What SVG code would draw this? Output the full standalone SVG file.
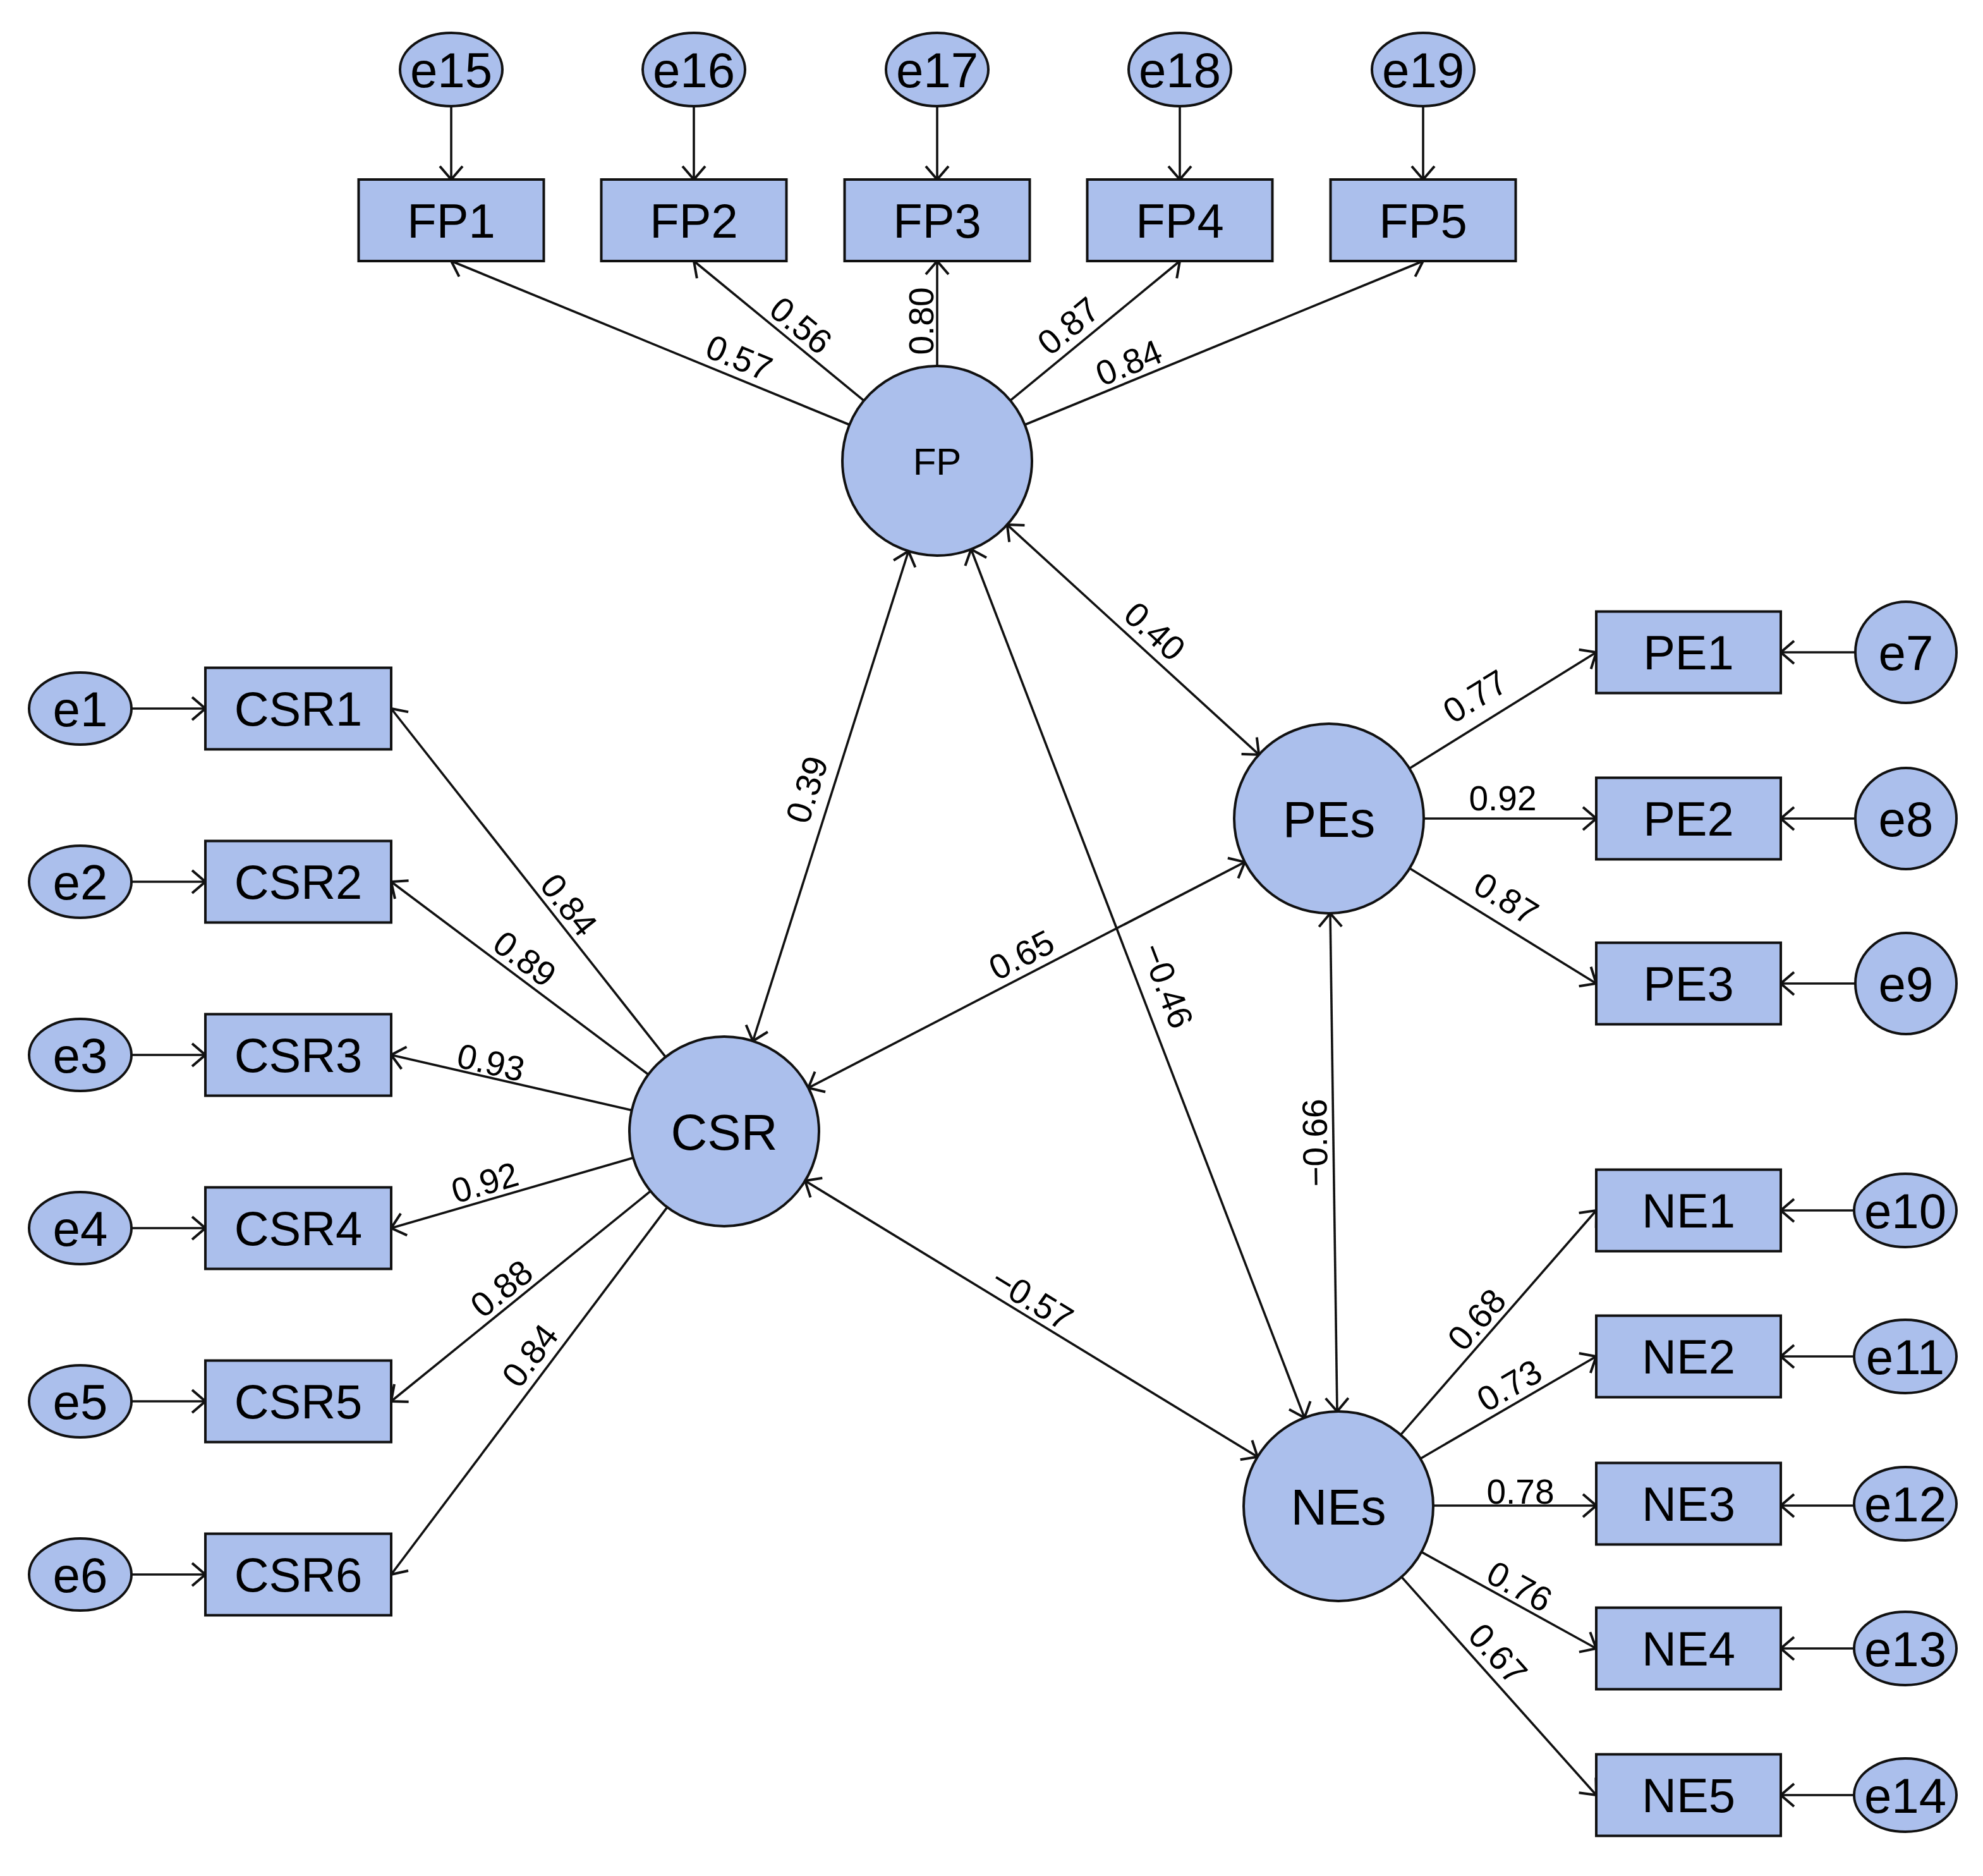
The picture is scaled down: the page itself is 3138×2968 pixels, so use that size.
<svg xmlns="http://www.w3.org/2000/svg" width="3138" height="2968" viewBox="0 0 3138 2968">
<style>
.box{fill:#abbfec;stroke:#111;stroke-width:4}
.lat{fill:#abbfec;stroke:#111;stroke-width:4}
.err{fill:#abbfec;stroke:#111;stroke-width:4}
.t{font-family:"Liberation Sans",Arial,sans-serif;font-size:76px;fill:#000;text-anchor:middle}
.te{font-family:"Liberation Sans",Arial,sans-serif;font-size:78px;fill:#000;text-anchor:middle}
.tl{font-family:"Liberation Sans",Arial,sans-serif;font-size:80px;fill:#000;text-anchor:middle}
.tfp{font-family:"Liberation Sans",Arial,sans-serif;font-size:60px;fill:#000;text-anchor:middle}
.lbl{font-family:"Liberation Sans",Arial,sans-serif;font-size:55px;fill:#000;text-anchor:middle}
.c{fill:none;stroke:#111;stroke-width:3.6;marker-end:url(#ah)}
.c2{fill:none;stroke:#111;stroke-width:3.6;marker-start:url(#ah);marker-end:url(#ah)}
</style>
<defs>
<marker id="ah" markerUnits="userSpaceOnUse" markerWidth="60" markerHeight="60" viewBox="-30 -30 60 60" refX="0" refY="0" orient="auto-start-reverse" overflow="visible">
<path d="M-21,-18 L0,0 L-21,18" fill="none" stroke="#111" stroke-width="4"/>
</marker>
</defs>
<rect width="3138" height="2968" fill="#fff"/>

<g id="connectors">
<path class="c" d="M714,168 L714,284"/>
<path class="c" d="M1098,168 L1098,284"/>
<path class="c" d="M1483,168 L1483,284"/>
<path class="c" d="M1867,168 L1867,284"/>
<path class="c" d="M2252,168 L2252,284"/>
<path class="c" d="M208,1121 L325,1121"/>
<path class="c" d="M208,1395 L325,1395"/>
<path class="c" d="M208,1669 L325,1669"/>
<path class="c" d="M208,1943 L325,1943"/>
<path class="c" d="M208,2217 L325,2217"/>
<path class="c" d="M208,2491 L325,2491"/>
<path class="c" d="M2936,1032 L2818,1032"/>
<path class="c" d="M2936,1295 L2818,1295"/>
<path class="c" d="M2936,1556 L2818,1556"/>
<path class="c" d="M2934,1915 L2818,1915"/>
<path class="c" d="M2934,2146 L2818,2146"/>
<path class="c" d="M2934,2382 L2818,2382"/>
<path class="c" d="M2934,2608 L2818,2608"/>
<path class="c" d="M2934,2840 L2818,2840"/>

<path class="c" d="M1344.3,672 L714,413"/>
<path class="c" d="M1367.1,633.8 L1098,413"/>
<path class="c" d="M1483,579 L1483,413"/>
<path class="c" d="M1598.8,633.7 L1867,413"/>
<path class="c" d="M1621.7,672 L2252,413"/>

<path class="c" d="M1053.2,1672.2 L619,1121"/>
<path class="c" d="M1026,1700 L619,1395"/>
<path class="c" d="M999.8,1756.4 L619,1669"/>
<path class="c" d="M1002,1831.8 L619,1943"/>
<path class="c" d="M1029.5,1884.4 L619,2217"/>
<path class="c" d="M1055.9,1909.9 L619,2491"/>

<path class="c" d="M2230.4,1215.8 L2526,1032"/>
<path class="c" d="M2253,1295 L2526,1295"/>
<path class="c" d="M2230.7,1373.8 L2526,1556"/>

<path class="c" d="M2216.6,2269.9 L2526,1915"/>
<path class="c" d="M2247.7,2307.7 L2526,2146"/>
<path class="c" d="M2268,2382 L2526,2382"/>
<path class="c" d="M2249.4,2455.4 L2526,2608"/>
<path class="c" d="M2217.9,2494.9 L2526,2840"/>

<path class="c2" d="M1437.6,872 L1191.4,1647"/>
<path class="c2" d="M1536.7,869 L2064.3,2243"/>
<path class="c2" d="M1593.8,830.1 L1992.2,1193.9"/>
<path class="c2" d="M1279.2,1721.1 L1969.8,1363.9"/>
<path class="c2" d="M1274,1868.1 L1990,2304.9"/>
<path class="c2" d="M2105,1445 L2116,2233"/>

<g id="connector-labels">
<text class="lbl" transform="translate(1170,565) rotate(22.34)" y="20">0.57</text>
<text class="lbl" transform="translate(1268,514) rotate(39.38)" y="20">0.56</text>
<text class="lbl" transform="translate(1457,508) rotate(-90)" y="20">0.80</text>
<text class="lbl" transform="translate(1690,515) rotate(-39.45)" y="20">0.87</text>
<text class="lbl" transform="translate(1786,573) rotate(-22.34)" y="20">0.84</text>
<text class="lbl" transform="translate(901,1431) rotate(51.77)" y="20">0.84</text>
<text class="lbl" transform="translate(831,1516) rotate(36.86)" y="20">0.89</text>
<text class="lbl" transform="translate(777,1680) rotate(12.93)" y="20">0.93</text>
<text class="lbl" transform="translate(767,1870) rotate(-16.19)" y="20">0.92</text>
<text class="lbl" transform="translate(793,2038) rotate(-39.02)" y="20">0.88</text>
<text class="lbl" transform="translate(838,2144) rotate(-53.07)" y="20">0.84</text>
<text class="lbl" transform="translate(2334,1101) rotate(-31.87)" y="20">0.77</text>
<text class="lbl" transform="translate(2378,1262)" y="20">0.92</text>
<text class="lbl" transform="translate(2384,1421) rotate(31.68)" y="20">0.87</text>
<text class="lbl" transform="translate(2336,2087) rotate(-48.98)" y="20">0.68</text>
<text class="lbl" transform="translate(2388,2191) rotate(-30.26)" y="20">0.73</text>
<text class="lbl" transform="translate(2406,2359)" y="20">0.78</text>
<text class="lbl" transform="translate(2405,2509) rotate(28.77)" y="20">0.76</text>
<text class="lbl" transform="translate(2371,2616) rotate(48.18)" y="20">0.67</text>
<text class="lbl" transform="translate(1276,1249) rotate(-72.38)" y="20">0.39</text>
<text class="lbl" transform="translate(1848,1559) rotate(69.01)" y="20">−0.46</text>
<text class="lbl" transform="translate(1828,998) rotate(42.39)" y="20">0.40</text>
<text class="lbl" transform="translate(1616,1510) rotate(-27.35)" y="20">0.65</text>
<text class="lbl" transform="translate(1634,2054) rotate(31.43)" y="20">−0.57</text>
<text class="lbl" transform="translate(2080,1808) rotate(-90.79)" y="20">−0.66</text>
</g>
</g>

<g id="FP"><circle class="lat" cx="1483" cy="729" r="150"/><text class="tfp" x="1483" y="751">FP</text></g>
<g id="CSR"><circle class="lat" cx="1146" cy="1790" r="150"/><text class="tl" x="1146" y="1819">CSR</text></g>
<g id="PEs"><circle class="lat" cx="2103" cy="1295" r="150"/><text class="tl" x="2103" y="1324">PEs</text></g>
<g id="NEs"><circle class="lat" cx="2118" cy="2383" r="150"/><text class="tl" x="2118" y="2412">NEs</text></g>

<g id="FP1"><rect class="box" x="567.5" y="284" width="293" height="129"/><text class="t" x="714" y="376">FP1</text></g>
<g id="FP2"><rect class="box" x="951.5" y="284" width="293" height="129"/><text class="t" x="1098" y="376">FP2</text></g>
<g id="FP3"><rect class="box" x="1336.5" y="284" width="293" height="129"/><text class="t" x="1483" y="376">FP3</text></g>
<g id="FP4"><rect class="box" x="1720.5" y="284" width="293" height="129"/><text class="t" x="1867" y="376">FP4</text></g>
<g id="FP5"><rect class="box" x="2105.5" y="284" width="293" height="129"/><text class="t" x="2252" y="376">FP5</text></g>

<g id="CSR1"><rect class="box" x="325" y="1056.5" width="294" height="129"/><text class="t" x="472" y="1148">CSR1</text></g>
<g id="CSR2"><rect class="box" x="325" y="1330.5" width="294" height="129"/><text class="t" x="472" y="1422">CSR2</text></g>
<g id="CSR3"><rect class="box" x="325" y="1604.5" width="294" height="129"/><text class="t" x="472" y="1696">CSR3</text></g>
<g id="CSR4"><rect class="box" x="325" y="1878.5" width="294" height="129"/><text class="t" x="472" y="1970">CSR4</text></g>
<g id="CSR5"><rect class="box" x="325" y="2152.5" width="294" height="129"/><text class="t" x="472" y="2244">CSR5</text></g>
<g id="CSR6"><rect class="box" x="325" y="2426.5" width="294" height="129"/><text class="t" x="472" y="2518">CSR6</text></g>

<g id="PE1"><rect class="box" x="2526" y="967.5" width="292" height="129"/><text class="t" x="2672" y="1059">PE1</text></g>
<g id="PE2"><rect class="box" x="2526" y="1230.5" width="292" height="129"/><text class="t" x="2672" y="1322">PE2</text></g>
<g id="PE3"><rect class="box" x="2526" y="1491.5" width="292" height="129"/><text class="t" x="2672" y="1583">PE3</text></g>

<g id="NE1"><rect class="box" x="2526" y="1850.5" width="292" height="129"/><text class="t" x="2672" y="1942">NE1</text></g>
<g id="NE2"><rect class="box" x="2526" y="2081.5" width="292" height="129"/><text class="t" x="2672" y="2173">NE2</text></g>
<g id="NE3"><rect class="box" x="2526" y="2314.5" width="292" height="129"/><text class="t" x="2672" y="2406">NE3</text></g>
<g id="NE4"><rect class="box" x="2526" y="2543.5" width="292" height="129"/><text class="t" x="2672" y="2635">NE4</text></g>
<g id="NE5"><rect class="box" x="2526" y="2775.5" width="292" height="129"/><text class="t" x="2672" y="2867">NE5</text></g>

<g id="e15"><ellipse class="err" cx="714" cy="110" rx="81" ry="58"/><text class="te" x="714" y="138">e15</text></g>
<g id="e16"><ellipse class="err" cx="1098" cy="110" rx="81" ry="58"/><text class="te" x="1098" y="138">e16</text></g>
<g id="e17"><ellipse class="err" cx="1483" cy="110" rx="81" ry="58"/><text class="te" x="1483" y="138">e17</text></g>
<g id="e18"><ellipse class="err" cx="1867" cy="110" rx="81" ry="58"/><text class="te" x="1867" y="138">e18</text></g>
<g id="e19"><ellipse class="err" cx="2252" cy="110" rx="81" ry="58"/><text class="te" x="2252" y="138">e19</text></g>

<g id="e1"><ellipse class="err" cx="127" cy="1121" rx="81" ry="57"/><text class="te" x="127" y="1149">e1</text></g>
<g id="e2"><ellipse class="err" cx="127" cy="1395" rx="81" ry="57"/><text class="te" x="127" y="1423">e2</text></g>
<g id="e3"><ellipse class="err" cx="127" cy="1669" rx="81" ry="57"/><text class="te" x="127" y="1697">e3</text></g>
<g id="e4"><ellipse class="err" cx="127" cy="1943" rx="81" ry="57"/><text class="te" x="127" y="1971">e4</text></g>
<g id="e5"><ellipse class="err" cx="127" cy="2217" rx="81" ry="57"/><text class="te" x="127" y="2245">e5</text></g>
<g id="e6"><ellipse class="err" cx="127" cy="2491" rx="81" ry="57"/><text class="te" x="127" y="2519">e6</text></g>

<g id="e7"><circle class="err" cx="3016" cy="1032" r="80"/><text class="te" x="3016" y="1060">e7</text></g>
<g id="e8"><circle class="err" cx="3016" cy="1295" r="80"/><text class="te" x="3016" y="1323">e8</text></g>
<g id="e9"><circle class="err" cx="3016" cy="1556" r="80"/><text class="te" x="3016" y="1584">e9</text></g>

<g id="e10"><ellipse class="err" cx="3015" cy="1915" rx="81" ry="58"/><text class="te" x="3015" y="1943">e10</text></g>
<g id="e11"><ellipse class="err" cx="3015" cy="2146" rx="81" ry="58"/><text class="te" x="3015" y="2174">e11</text></g>
<g id="e12"><ellipse class="err" cx="3015" cy="2379" rx="81" ry="58"/><text class="te" x="3015" y="2407">e12</text></g>
<g id="e13"><ellipse class="err" cx="3015" cy="2608" rx="81" ry="58"/><text class="te" x="3015" y="2636">e13</text></g>
<g id="e14"><ellipse class="err" cx="3015" cy="2840" rx="81" ry="58"/><text class="te" x="3015" y="2868">e14</text></g>
</svg>
